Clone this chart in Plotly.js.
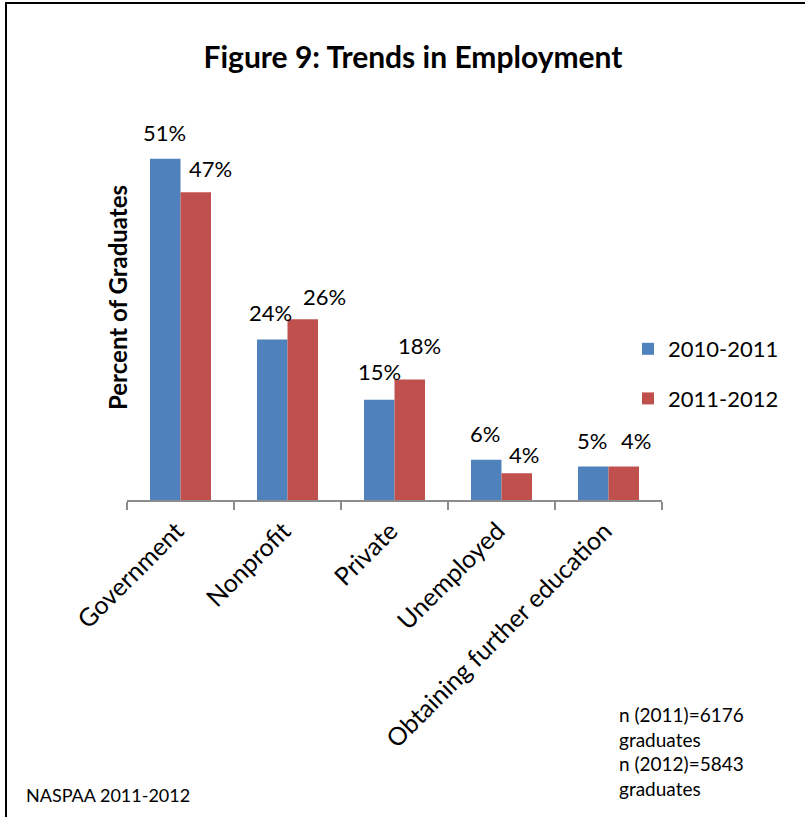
<!DOCTYPE html>
<html>
<head>
<meta charset="utf-8">
<script src="https://cdn.plot.ly/plotly-3.0.1.min.js"></script>
<style>
html, body { margin: 0; padding: 0; background: #fff; }
#chart { width: 805px; height: 817px; }
</style>
</head>
<body>
<div id="chart"></div>
<script>
// ---- Data ----
const categories = ["Government", "Nonprofit", "Private", "Unemployed", "Obtaining further education"];
const seriesNames = ["2010-2011", "2011-2012"];
// bar heights (percent of graduates)
const values2011 = [51, 24, 15, 6, 5];
const values2012 = [46, 27, 18, 4, 5];
// data labels as printed on the chart
const labels2011 = ["51%", "24%", "15%", "6%", "5%"];
const labels2012 = ["47%", "26%", "18%", "4%", "4%"];
const noteText = ["n (2011)=6176", "graduates", "n (2012)=5843", "graduates"];
const sourceText = "NASPAA 2011-2012";
const titleText = "Figure 9: Trends in Employment";
const yTitleText = "Percent of Graduates";

// ---- Styling / layout ----
const FONT = "Lato, 'Open Sans', sans-serif";
const blue = "#4F81BD", red = "#C0504D";
const W = 805, H = 817;
const mL = 127, mR = 143, mT = 120, mB = 317;
const plotW = W - mL - mR, plotH = H - mT - mB;
const yMax = plotH / 6.69;
const px2x = p => (p - mL) / plotW;
const px2y = p => (H - mB - p) / plotH;

// label placement offsets (pixels)
const halfBar = 15.25;
const blueDx = [-1, -1.5, 0, -1, -1];
const blueDy = [26, 27, 28, 26.5, 26];
const redDx = [15, 22, 10, 7, 12];
const redDy = [24, 23, 34, 19, 26];

const traces = [
  { type: "bar", x: categories, y: values2011, name: seriesNames[0],
    marker: { color: blue }, legendgroup: "a", hoverinfo: "skip" },
  { type: "bar", x: categories, y: values2012, name: seriesNames[1],
    marker: { color: red }, legendgroup: "b", hoverinfo: "skip" }
];

const annotations = [];
categories.forEach((c, i) => {
  annotations.push({ x: c, y: values2011[i], xref: "x", yref: "y", text: labels2011[i],
    showarrow: false, xanchor: "center", yanchor: "middle",
    xshift: -halfBar + blueDx[i], yshift: blueDy[i],
    font: { family: FONT, size: 22, color: "#000" } });
  annotations.push({ x: c, y: values2012[i], xref: "x", yref: "y", text: labels2012[i],
    showarrow: false, xanchor: "center", yanchor: "middle",
    xshift: halfBar + redDx[i], yshift: redDy[i],
    font: { family: FONT, size: 22, color: "#000" } });
});
annotations.push({ xref: "paper", yref: "paper", x: px2x(117), y: px2y(298),
  text: "<b>" + yTitleText + "</b>", textangle: -90, showarrow: false,
  xanchor: "center", yanchor: "middle", font: { family: FONT, size: 24, color: "#000" } });
annotations.push({ xref: "paper", yref: "paper", x: px2x(617), y: px2y(751.5),
  text: noteText.join("<br>"), align: "left", showarrow: false,
  xanchor: "left", yanchor: "middle", font: { family: FONT, size: 19, color: "#000" } });
annotations.push({ xref: "paper", yref: "paper", x: px2x(24), y: px2y(795),
  text: sourceText, showarrow: false, xanchor: "left", yanchor: "middle",
  font: { family: FONT, size: 18, color: "#000" } });

const layout = {
  width: W, height: H,
  margin: { l: mL, r: mR, t: mT, b: mB, pad: 0 },
  paper_bgcolor: "#fff", plot_bgcolor: "#fff",
  font: { family: FONT, color: "#000" },
  title: { text: "<b>" + titleText + "</b>", x: 413 / W, xref: "container", xanchor: "center",
    y: 1 - 57 / H, yref: "container", yanchor: "middle",
    font: { family: FONT, size: 30, color: "#000" } },
  barmode: "group", bargap: 0.43, bargroupgap: 0,
  xaxis: { type: "category", showline: true, linecolor: "#8c8c8c", linewidth: 1.5,
    ticks: "outside", tickson: "boundaries", ticklen: 8, tickcolor: "#8c8c8c", tickwidth: 1.5,
    tickangle: -45, tickfont: { family: FONT, size: 25, color: "#000" },
    ticklabelstandoff: 5, ticklabelshift: -4,
    showgrid: false, zeroline: false, fixedrange: true },
  yaxis: { range: [0, yMax], visible: false, showgrid: false, zeroline: false, fixedrange: true },
  showlegend: true,
  legend: { x: px2x(628), y: px2y(374), xanchor: "left", yanchor: "middle",
    traceorder: "grouped", tracegroupgap: 18,
    font: { family: FONT, size: 22, color: "#000" }, bgcolor: "rgba(0,0,0,0)" },
  annotations: annotations,
  shapes: [
    { type: "line", xref: "paper", yref: "paper", x0: px2x(6), x1: px2x(6), y0: px2y(2), y1: px2y(H + 5),
      line: { color: "#000", width: 2 } },
    { type: "line", xref: "paper", yref: "paper", x0: px2x(5), x1: px2x(W + 5), y0: px2y(3), y1: px2y(3),
      line: { color: "#000", width: 2 } }
  ]
};

Plotly.newPlot("chart", traces, layout, { displayModeBar: false, staticPlot: true });
</script>
</body>
</html>
